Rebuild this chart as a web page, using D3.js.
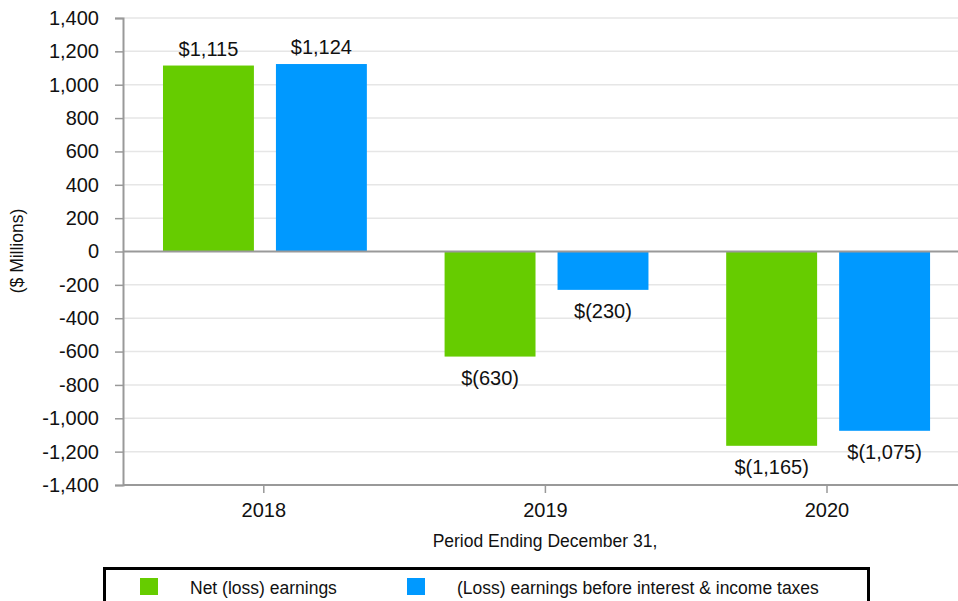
<!DOCTYPE html>
<html>
<head>
<meta charset="utf-8">
<script src="https://cdn.jsdelivr.net/npm/d3@7"></script>
<style>
body{margin:0;background:#fff;}
text{font-family:"Liberation Sans",Arial,sans-serif;fill:#111;}
</style>
</head>
<body>
<div class="box"></div>
<script>
const years=['2018','2019','2020'];
const seriesNames=['Net (loss) earnings','(Loss) earnings before interest & income taxes'];
const netEarnings=[1115,-630,-1165];
const ebit=[1124,-230,-1075];
const yTicks=[1400,1200,1000,800,600,400,200,0,-200,-400,-600,-800,-1000,-1200,-1400];
const colors=['#66cc00','#0099ff'];

const W=958,H=601;
const svg=d3.select('.box').append('svg').attr('width',W).attr('height',H).style('display','block');
const margin={top:18,left:123,bottom:485};

const x=d3.scaleBand().domain(years).range([margin.left,margin.left+3*281.6]);
const bw=x.bandwidth();
const x1=d3.scaleBand().domain([0,1]).range([bw*0.142,bw*0.866]).paddingInner(0.195);
const y=d3.scaleLinear().domain([-1400,1400]).range([margin.bottom,margin.top]);

// grille
svg.append('g').selectAll('line').data(yTicks.filter(t=>t!==0)).enter().append('line')
  .attr('x1',margin.left).attr('x2',W)
  .attr('y1',d=>y(d)).attr('y2',d=>y(d))
  .attr('stroke','#e6e6e6').attr('stroke-width',1.5);

const d=years.map((yr,i)=>({year:yr,vals:[netEarnings[i],ebit[i]]}));
const groups=svg.append('g').selectAll('g').data(d).enter().append('g')
  .attr('transform',g=>`translate(${x(g.year)},0)`);

groups.selectAll('rect').data(g=>g.vals.map((v,i)=>({v,i}))).enter().append('rect')
  .attr('x',b=>x1(b.i))
  .attr('width',x1.bandwidth())
  .attr('y',b=>y(Math.max(0,b.v)))
  .attr('height',b=>Math.abs(y(b.v)-y(0)))
  .attr('fill',b=>colors[b.i]);

const comma=d3.format(',');
const fmt=v=>v<0?'$('+comma(-v)+')':'$'+comma(v);
groups.selectAll('text').data(g=>g.vals.map((v,i)=>({v,i}))).enter().append('text')
  .attr('x',b=>x1(b.i)+x1.bandwidth()/2)
  .attr('y',b=>b.v>=0?y(b.v)-10:y(b.v)+28)
  .attr('text-anchor','middle')
  .style('font-size','20px')
  .text(b=>fmt(b.v));

// ligne zéro
svg.append('line').attr('x1',margin.left).attr('x2',W)
  .attr('y1',y(0)).attr('y2',y(0))
  .attr('stroke','#999').attr('stroke-width',2);

// axes
const axeY=d3.axisLeft(y).tickValues(yTicks).tickSize(8).tickPadding(16)
  .tickFormat(v=>(v<0?'-':'')+comma(Math.abs(v)));
const gY=svg.append('g').attr('transform',`translate(${margin.left},0)`).call(axeY);
gY.select('.domain').attr('stroke','#999').attr('stroke-width',2);
gY.selectAll('.tick line').attr('stroke','#999').attr('stroke-width',1.5);
gY.selectAll('.tick text').style('font-size','20px').style('font-family','"Liberation Sans",Arial,sans-serif').attr('fill','#111');

const axeX=d3.axisBottom(x).tickSize(8).tickPadding(10);
const gX=svg.append('g').attr('transform',`translate(0,${margin.bottom})`).call(axeX);
gX.select('.domain').attr('d',`M${margin.left},0H${W}`).attr('stroke','#999').attr('stroke-width',2);
gX.selectAll('.tick line').attr('stroke','#999').attr('stroke-width',1.5);
gX.selectAll('.tick text').style('font-size','20px').style('font-family','"Liberation Sans",Arial,sans-serif').attr('fill','#111');

svg.append('text').attr('transform','translate(23,251) rotate(-90)')
  .attr('text-anchor','middle').style('font-size','17.5px').text('($ Millions)');
svg.append('text').attr('x',545).attr('y',547)
  .attr('text-anchor','middle').style('font-size','17.5px').text('Period Ending December 31,');

// légende
const leg=svg.append('g');
leg.append('rect').attr('x',104.5).attr('y',568.5).attr('width',764).attr('height',60)
  .attr('fill','none').attr('stroke','#000').attr('stroke-width',3);
const legX=[140,407];
seriesNames.forEach((n,i)=>{
  leg.append('rect').attr('x',legX[i]).attr('y',578).attr('width',18).attr('height',17).attr('fill',colors[i]);
  leg.append('text').attr('x',legX[i]+50).attr('y',594).style('font-size','17.5px').text(n);
});
</script>
</body>
</html>
